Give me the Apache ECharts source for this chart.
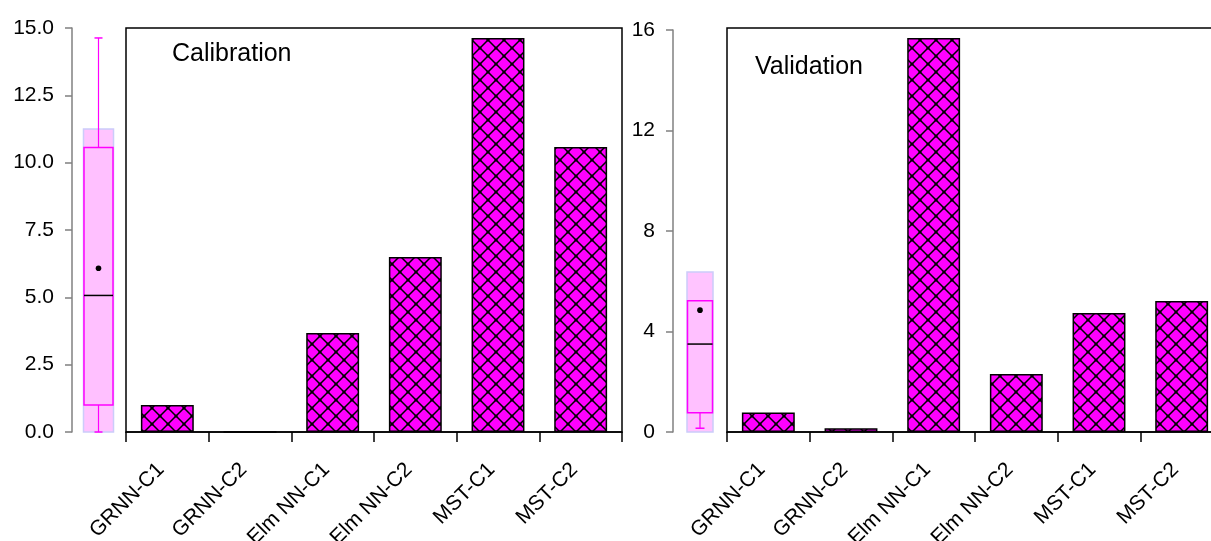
<!DOCTYPE html>
<html><head><meta charset="utf-8">
<script src="https://cdn.jsdelivr.net/npm/echarts@6/dist/echarts.min.js"></script>
<style>html,body{margin:0;padding:0;background:#fff}#c{width:1211px;height:541px}</style>
</head><body><div id="c"></div><script>
const categories = ['GRNN-C1', 'GRNN-C2', 'Elm NN-C1', 'Elm NN-C2', 'MST-C1', 'MST-C2'];
const calibrationValues = [1.0, 0, 3.68, 6.5, 14.63, 10.58];
const validationValues = [0.78, 0.15, 15.68, 2.31, 4.74, 5.21];
// box statistics: [min, Q1, median, Q3, max]
const calibrationBox = [0, 1.0, 5.07, 10.56, 14.63];
const calibrationMean = 6.08;
const calibrationRange = [0, 11.25];
const validationBox = [0.15, 0.77, 3.5, 5.22, 5.22];
const validationMean = 4.85;
const validationRange = [0, 6.37];
const calibrationTicks = { min: 0, max: 15, interval: 2.5 };
const validationTicks = { min: 0, max: 16, interval: 4 };
const titles = ['Calibration', 'Validation'];

const FONT = 'Liberation Sans, Arial, sans-serif';

function makePattern() {
  const c = document.createElement('canvas');
  c.width = 16; c.height = 16;
  const g = c.getContext('2d');
  g.fillStyle = '#FF00FF';
  g.fillRect(0, 0, 16, 16);
  g.strokeStyle = '#000';
  g.lineWidth = 1.5;
  g.beginPath();
  for (let k = -1; k <= 1; k++) {
    g.moveTo(0, 16 * k); g.lineTo(16, 16 + 16 * k);
  }
  for (let k = 0; k <= 2; k++) {
    g.moveTo(0, 16 * k); g.lineTo(16, 16 * k - 16);
  }
  g.stroke();
  g.fillStyle = '#000';
  [[0, 0], [16, 0], [0, 16], [16, 16], [8, 8]].forEach(p => { g.beginPath(); g.arc(p[0], p[1], 1.6, 0, Math.PI * 2); g.fill(); });
  return c;
}
const pattern = { image: makePattern(), repeat: 'repeat' };

function boxRenderer(halfW, capHalf) {
  return function (params, api) {
    const v = i => api.value(i);
    const cx = api.coord([0, 0])[0];
    const y = val => api.coord([0, val])[1];
    const mn = v(1), q1 = v(2), md = v(3), q3 = v(4), mx = v(5), mean = v(6), r0 = v(7), r1 = v(8);
    const ch = [];
    ch.push({ type: 'rect', shape: { x: cx - halfW - 0.5, y: y(r1), width: 2 * halfW + 1, height: y(r0) - y(r1) },
      style: { fill: '#FFC4FF', stroke: '#CCCCFA', lineWidth: 1.5 } });
    if (mx > q3) {
      ch.push({ type: 'line', shape: { x1: cx, y1: y(q3), x2: cx, y2: y(mx) }, style: { stroke: '#FF00FF', lineWidth: 1.2 } });
      ch.push({ type: 'line', shape: { x1: cx - capHalf, y1: y(mx), x2: cx + capHalf, y2: y(mx) }, style: { stroke: '#FF00FF', lineWidth: 1.5 } });
    }
    if (mn < q1) {
      ch.push({ type: 'line', shape: { x1: cx, y1: y(q1), x2: cx, y2: y(mn) }, style: { stroke: '#FF00FF', lineWidth: 1.2 } });
      ch.push({ type: 'line', shape: { x1: cx - capHalf, y1: y(mn), x2: cx + capHalf, y2: y(mn) }, style: { stroke: '#FF00FF', lineWidth: 1.5 } });
    }
    ch.push({ type: 'rect', shape: { x: cx - halfW, y: y(q3), width: 2 * halfW, height: y(q1) - y(q3) },
      style: { fill: '#FFC0FF', stroke: '#FF00FF', lineWidth: 1.5 } });
    ch.push({ type: 'line', shape: { x1: cx - halfW, y1: y(md), x2: cx + halfW, y2: y(md) }, style: { stroke: '#000', lineWidth: 1.5 } });
    ch.push({ type: 'circle', shape: { cx: cx, cy: y(mean), r: 2.8 }, style: { fill: '#000' } });
    return { type: 'group', children: ch };
  };
}

const boxYAxis = (t, idx) => ({
  type: 'value', gridIndex: idx, min: t.min, max: t.max, interval: t.interval,
  axisLine: { show: true, lineStyle: { color: '#808080', width: 1.5 } },
  axisTick: { show: true, length: 7, lineStyle: { color: '#808080', width: 1.5 } },
  axisLabel: { fontSize: 21, color: '#000', fontFamily: FONT, margin: 18,
    formatter: val => (t.interval % 1 ? val.toFixed(1) : String(val)) },
  splitLine: { show: false }
});
const barXAxis = idx => ({
  type: 'category', gridIndex: idx, data: categories,
  axisLine: { show: true, lineStyle: { color: '#000', width: 1.5 } },
  axisTick: { show: true, length: 10, lineStyle: { color: '#000', width: 1.5 } },
  axisLabel: { rotate: 45, fontSize: 21, color: '#000', fontFamily: FONT, margin: 28, interval: 0, padding: [0, 9, 0, 0] },
  splitLine: { show: false }
});

const gridBase = { containLabel: false, outerBoundsMode: 'none', top: 28, bottom: 109 };
const chart = echarts.init(document.getElementById('c'), null, { renderer: 'canvas' });
chart.setOption({
  animation: false,
  backgroundColor: '#fff',
  title: [
    { text: titles[0], left: 172, top: 42, padding: 0, textStyle: { fontSize: 25, fontWeight: 'normal', color: '#000', fontFamily: FONT } },
    { text: titles[1], left: 755, top: 55, padding: 0, textStyle: { fontSize: 25, fontWeight: 'normal', color: '#000', fontFamily: FONT } }
  ],
  grid: [
    Object.assign({}, gridBase, { left: 72, width: 53 }),
    Object.assign({}, gridBase, { left: 126, width: 496, show: true, borderColor: '#000', borderWidth: 1.5, backgroundColor: 'transparent' }),
    Object.assign({}, gridBase, { left: 673, width: 54, top: 30 }),
    Object.assign({}, gridBase, { left: 727, width: 496, show: true, borderColor: '#000', borderWidth: 1.5, backgroundColor: 'transparent' })
  ],
  xAxis: [
    { type: 'category', gridIndex: 0, data: ['box'], show: false },
    barXAxis(1),
    { type: 'category', gridIndex: 2, data: ['box'], show: false },
    barXAxis(3)
  ],
  yAxis: [
    boxYAxis(calibrationTicks, 0),
    { type: 'value', gridIndex: 1, min: calibrationTicks.min, max: calibrationTicks.max, show: false },
    boxYAxis(validationTicks, 2),
    { type: 'value', gridIndex: 3, min: validationTicks.min, max: validationTicks.max * 404 / 402, show: false }
  ],
  series: [
    { type: 'custom', xAxisIndex: 0, yAxisIndex: 0, renderItem: boxRenderer(14.5, 4),
      data: [[0, ...calibrationBox, calibrationMean, ...calibrationRange]] },
    { type: 'bar', xAxisIndex: 1, yAxisIndex: 1, data: calibrationValues, barWidth: '64%',
      itemStyle: { color: pattern, borderColor: '#000', borderWidth: 1.5 } },
    { type: 'custom', xAxisIndex: 2, yAxisIndex: 2, renderItem: boxRenderer(12.5, 4.5),
      data: [[0, ...validationBox, validationMean, ...validationRange]] },
    { type: 'bar', xAxisIndex: 3, yAxisIndex: 3, data: validationValues, barWidth: '64%',
      itemStyle: { color: pattern, borderColor: '#000', borderWidth: 1.5 } }
  ]
});
</script></body></html>
